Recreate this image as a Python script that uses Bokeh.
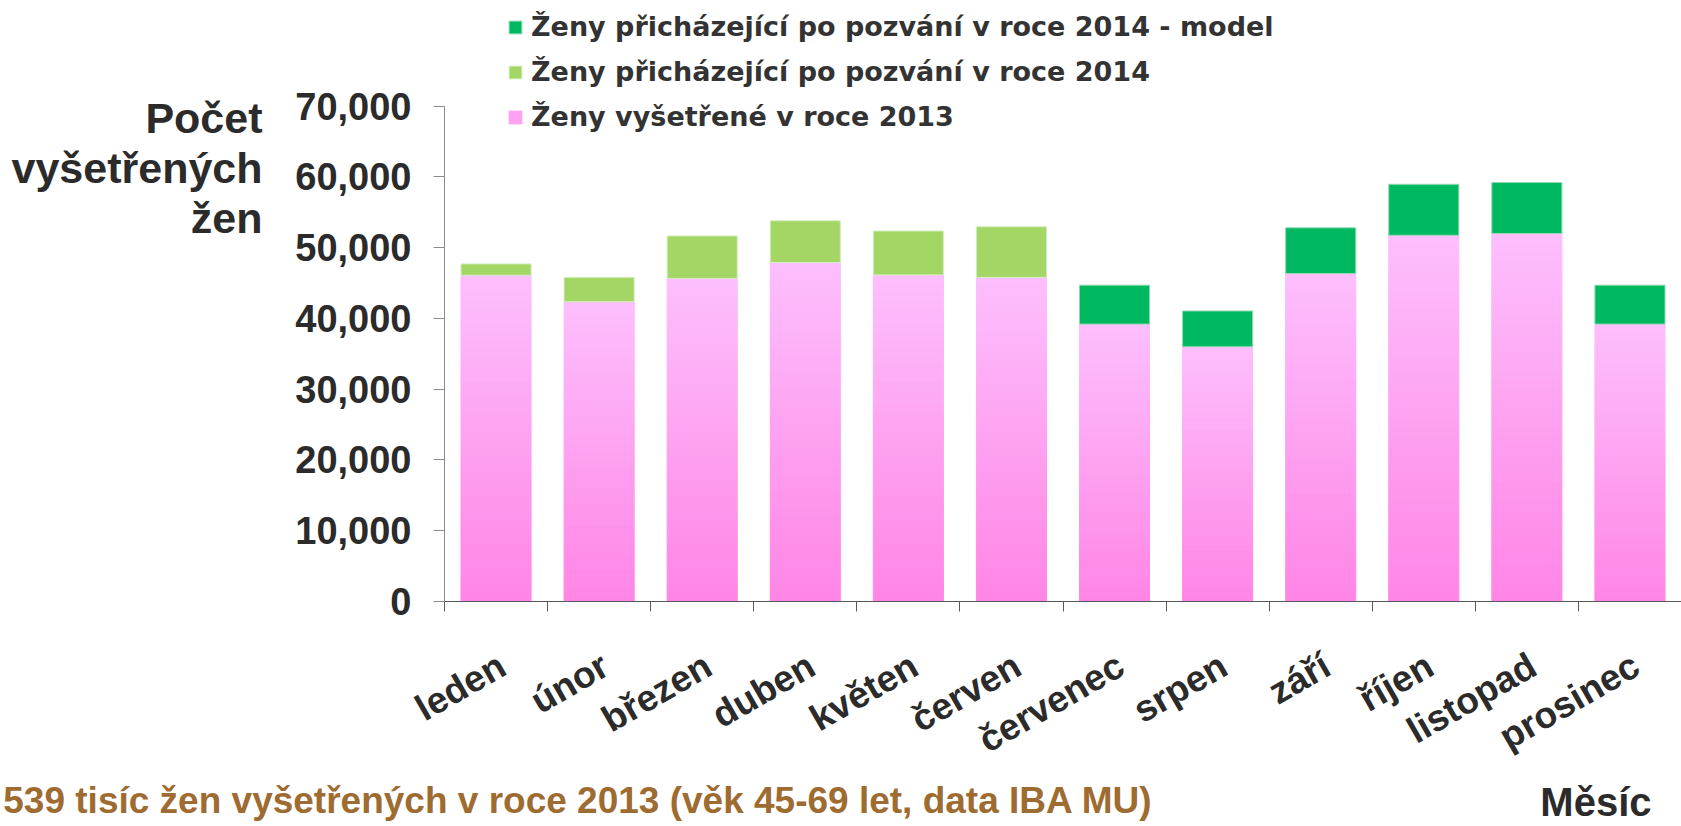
import math
from bokeh.plotting import figure
from bokeh.models import (Range1d, FixedTicker, LinearAxis, NumeralTickFormatter,
                          Legend, LegendItem, ColumnDataSource, CustomJSTickFormatter)
from bokeh.embed import file_html
from bokeh.resources import INLINE

# ---- data ----
months = ["leden", "únor", "březen", "duben", "květen", "červen",
          "červenec", "srpen", "září", "říjen", "listopad", "prosinec"]
zeny_2013 = [46100, 42350, 45650, 47900, 46150, 45800, 39200, 36000, 46350, 51750, 52000, 39200]
pozvani_2014 = [1600, 3450, 6000, 5900, 6200, 7150, 0, 0, 0, 0, 0, 0]
model_2014 = [0, 0, 0, 0, 0, 0, 5500, 5050, 6450, 7200, 7200, 5500]
y_ticks = [0, 10000, 20000, 30000, 40000, 50000, 60000, 70000]
legend_labels = ["Ženy přicházející po pozvání v roce 2014 - model",
                 "Ženy přicházející po pozvání v roce 2014",
                 "Ženy vyšetřené v roce 2013"]
y_title = "Počet\nvyšetřených\nžen"
x_title = "Měsíc"
note = "539 tisíc žen vyšetřených v roce 2013 (věk 45-69 let, data IBA MU)"

FONT = "Liberation Sans"
TXT = "#2b2b2b"

# frame: 0..70000 occupies 502 px, frame bottom at 609 px; range extends up to canvas top
Y_TOP = 70000 * 609 / 502

p = figure(width=1681, height=826, x_range=Range1d(0, 12), y_range=Range1d(0, Y_TOP),
           output_backend="svg", toolbar_location=None, x_axis_location=None,
           min_border_left=444, min_border_right=0, min_border_top=0, min_border_bottom=217)
p.outline_line_color = None
p.grid.grid_line_color = None
p.background_fill_color = "white"
p.border_fill_color = "white"

centers = [i + 0.5 for i in range(len(months))]
BW = 0.68

# pink 2013 bars with vertical gradient (slices of each bar)
N = 40
c_bot = (255, 133, 229)
c_top = (253, 191, 253)
xs, bots, tops, cols = [], [], [], []
for i, v in enumerate(zeny_2013):
    for k in range(N):
        t = (k + 0.5) / N
        rgb = tuple(int(round(c_bot[j] + (c_top[j] - c_bot[j]) * t)) for j in range(3))
        xs.append(centers[i]); bots.append(v * k / N); tops.append(v * (k + 1) / N)
        cols.append("#%02x%02x%02x" % rgb)
src = ColumnDataSource(dict(x=xs, bottom=bots, top=tops, color=cols))
pink = p.vbar(x="x", bottom="bottom", top="top", width=BW, fill_color="color",
              line_color="color", line_width=1, source=src)

light_idx = [i for i, v in enumerate(pozvani_2014) if v > 0]
light = p.vbar(x=[centers[i] for i in light_idx],
               bottom=[zeny_2013[i] for i in light_idx],
               top=[zeny_2013[i] + pozvani_2014[i] for i in light_idx],
               width=BW, fill_color="#a3d665", line_color="#d5edc0", line_width=1)

dark_idx = [i for i, v in enumerate(model_2014) if v > 0]
dark = p.vbar(x=[centers[i] for i in dark_idx],
              bottom=[zeny_2013[i] + pozvani_2014[i] for i in dark_idx],
              top=[zeny_2013[i] + pozvani_2014[i] + model_2014[i] for i in dark_idx],
              width=BW, fill_color="#00b860", line_color="#8fd9b3", line_width=1)

# y axis
ya = p.yaxis[0]
ya.ticker = FixedTicker(ticks=y_ticks)
ya.bounds = (0, 70000)
ya.formatter = NumeralTickFormatter(format="0,0")
ya.major_label_text_font = FONT
ya.major_label_text_font_size = "38px"
ya.major_label_text_font_style = "bold"
ya.major_label_text_color = TXT
ya.major_label_standoff = 22
ya.major_tick_out = 11
ya.major_tick_in = 0
ya.minor_tick_line_color = None
ya.axis_line_color = "#8c8c8c"
ya.major_tick_line_color = "#8c8c8c"

# y title as a single multi-line label on an extra left axis
title_y = 61200
ya_title = LinearAxis(ticker=FixedTicker(ticks=[title_y]),
                      major_label_overrides={title_y: y_title},
                      axis_line_color=None, major_tick_line_color=None, minor_tick_line_color=None,
                      major_tick_out=0, major_tick_in=0, major_label_standoff=30,
                      major_label_text_font=FONT, major_label_text_font_size="43px",
                      major_label_text_font_style="bold", major_label_text_color=TXT,
                      major_label_text_line_height=1.04)
p.add_layout(ya_title, "left")

# x axis: separator ticks at category boundaries
xa_ticks = LinearAxis(ticker=FixedTicker(ticks=list(range(13))),
                      formatter=CustomJSTickFormatter(code="return ''"),
                      major_tick_out=10, major_tick_in=0, major_label_standoff=0,
                      major_label_text_font_size="1px",
                      axis_line_color="#595959", major_tick_line_color="#595959",
                      minor_tick_line_color=None)
p.add_layout(xa_ticks, "below")

label_ticks = [c + 0.06 for c in centers]
xa_lab = LinearAxis(ticker=FixedTicker(ticks=label_ticks),
                    major_label_overrides={c: m for c, m in zip(label_ticks, months)},
                    axis_line_color=None, major_tick_line_color=None, minor_tick_line_color=None,
                    major_tick_out=0, major_tick_in=0,
                    major_label_orientation=math.radians(30), major_label_standoff=51,
                    major_label_text_font=FONT, major_label_text_font_size="37px",
                    major_label_text_font_style="bold", major_label_text_color=TXT)
p.add_layout(xa_lab, "below")

# note (brown) and axis title as labels on extra bottom axes
note_x = 1.242
xa_note = LinearAxis(ticker=FixedTicker(ticks=[note_x]),
                     major_label_overrides={note_x: note},
                     axis_line_color=None, major_tick_line_color=None, minor_tick_line_color=None,
                     major_tick_out=0, major_tick_in=0, major_label_standoff=-2,
                     major_label_text_font=FONT, major_label_text_font_size="37px",
                     major_label_text_font_style="bold", major_label_text_color="#9e6b30")
p.add_layout(xa_note, "below")

mesic_x = 11.17
xa_mesic = LinearAxis(ticker=FixedTicker(ticks=[mesic_x]),
                      major_label_overrides={mesic_x: x_title},
                      axis_line_color=None, major_tick_line_color=None, minor_tick_line_color=None,
                      major_tick_out=0, major_tick_in=0, major_label_standoff=-44,
                      major_label_text_font=FONT, major_label_text_font_size="40px",
                      major_label_text_font_style="bold", major_label_text_color=TXT)
p.add_layout(xa_mesic, "below")

# legend
legend = Legend(items=[LegendItem(label=legend_labels[0], renderers=[dark]),
                       LegendItem(label=legend_labels[1], renderers=[light]),
                       LegendItem(label=legend_labels[2], renderers=[pink], index=N // 2)],
                location=(63, 462), orientation="vertical",
                border_line_color=None, background_fill_alpha=0,
                label_text_font="DejaVu Sans", label_text_font_size="27px",
                label_text_font_style="bold", label_text_color="#333333",
                glyph_width=16, glyph_height=16, label_standoff=8,
                spacing=0, padding=0, margin=0, label_height=45)
p.add_layout(legend)

open("out.html", "w").write(file_html(p, INLINE))
